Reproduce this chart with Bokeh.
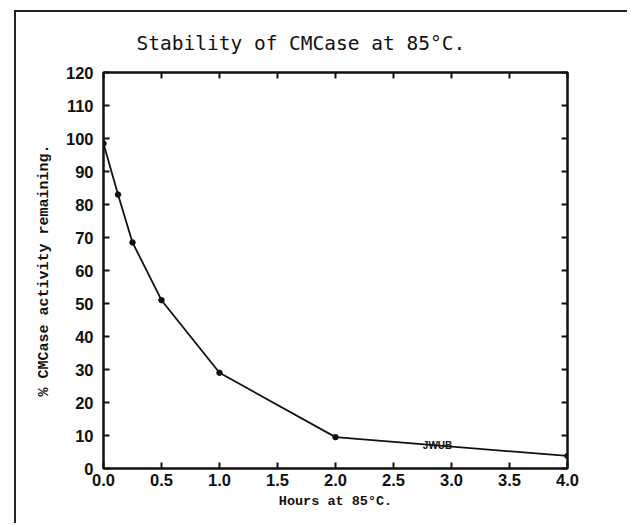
from bokeh.plotting import figure
from bokeh.models import Range1d, FixedTicker, LinearAxis, NumeralTickFormatter
from bokeh.core.properties import value
from bokeh.embed import file_html
from bokeh.resources import INLINE

# data
hours = [0.0, 0.125, 0.25, 0.5, 1.0, 2.0, 4.0]
activity = [98.5, 83.0, 68.5, 51.0, 29.0, 9.5, 3.8]
x_ticks = [0.0, 0.5, 1.0, 1.5, 2.0, 2.5, 3.0, 3.5, 4.0]
y_ticks = [0, 10, 20, 30, 40, 50, 60, 70, 80, 90, 100, 110, 120]
title_text = "Stability of CMCase at 85°C."
x_label = "Hours at 85°C."
y_label = "% CMCase activity remaining."
stamp_x = [2.88]
stamp_y = [7.0]
stamp_text = ["JWUB"]

p = figure(width=614, height=513, output_backend="svg", toolbar_location=None,
           x_range=Range1d(0, 4), y_range=Range1d(0, 120),
           min_border_left=87, min_border_right=63, min_border_top=60, min_border_bottom=57)
p.styles = {"margin-left": "16px", "margin-top": "12px",
            "box-shadow": "-2px -2px 0px 0px #222",
            "clip-path": "inset(-3px 3px -3px -3px)"}

p.title.text = title_text
p.title.text_font = "DejaVu Sans Mono"
p.title.text_font_size = "19.5px"
p.title.text_font_style = "normal"
p.title.align = "left"
p.title.offset = 33
p.title.standoff = 35
p.title.text_color = "#111"

p.grid.visible = False
p.outline_line_color = "#111"
p.outline_line_width = 2
p.background_fill_color = "white"
p.border_fill_color = "white"

for ax in [p.xaxis[0], p.yaxis[0]]:
    ax.axis_line_width = 2
    ax.axis_line_color = "#111"
    ax.major_tick_in = 6
    ax.major_tick_out = 0
    ax.major_tick_line_width = 2
    ax.major_tick_line_color = "#111"
    ax.minor_tick_line_color = None
    ax.major_label_text_font = "Liberation Sans"
    ax.major_label_text_font_style = "bold"
    ax.major_label_text_font_size = "16.5px"
    ax.major_label_text_color = "#111"
    ax.axis_label_text_font = "Liberation Mono"
    ax.axis_label_text_font_style = "bold"
    ax.axis_label_text_color = "#111"

p.xaxis[0].ticker = FixedTicker(ticks=x_ticks)
p.xaxis[0].formatter = NumeralTickFormatter(format="0.0")
p.xaxis[0].major_label_standoff = 5
p.yaxis[0].ticker = FixedTicker(ticks=y_ticks)
p.yaxis[0].major_label_standoff = 10
p.xaxis[0].axis_label = x_label
p.xaxis[0].axis_label_text_font_size = "13.5px"
p.xaxis[0].axis_label_standoff = 5
p.yaxis[0].axis_label = y_label
p.yaxis[0].axis_label_text_font_size = "15px"
p.yaxis[0].axis_label_standoff = 10

top = LinearAxis(ticker=FixedTicker(ticks=x_ticks))
right = LinearAxis(ticker=FixedTicker(ticks=y_ticks))
for ax in [top, right]:
    ax.axis_line_width = 2
    ax.axis_line_color = "#111"
    ax.major_tick_in = 6
    ax.major_tick_out = 0
    ax.major_tick_line_width = 2
    ax.major_tick_line_color = "#111"
    ax.minor_tick_line_color = None
    ax.major_label_text_color = None
    ax.major_label_standoff = 0
p.add_layout(top, "above")
p.add_layout(right, "right")

p.line(hours, activity, line_color="#111", line_width=1.8)
p.scatter(hours, activity, size=5.5, fill_color="#111", line_color="#111")

p.text(x=stamp_x, y=stamp_y, text=stamp_text, text_font=value("Liberation Sans"),
       text_font_style="bold", text_font_size="10px", text_align="center",
       text_baseline="middle", text_color="#111")

open("out.html", "w").write(file_html(p, INLINE))
